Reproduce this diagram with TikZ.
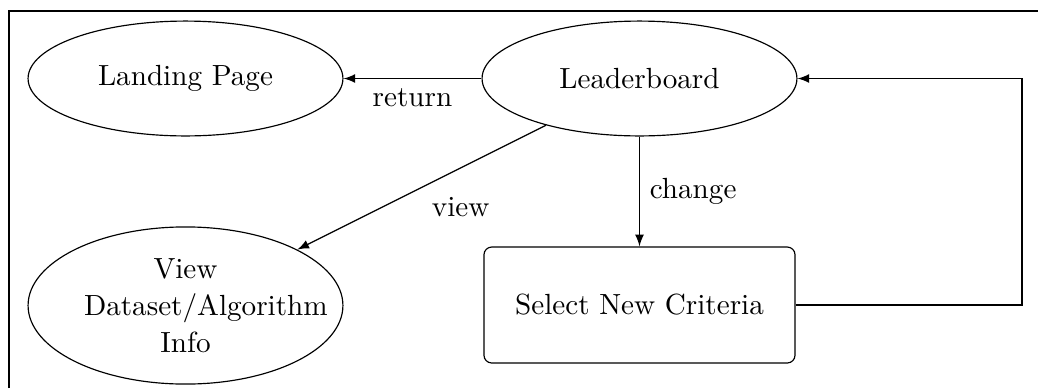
\documentclass[tikz,border=0pt]{standalone}
\usetikzlibrary{shapes.geometric,arrows}
\begin{document}
\begin{tikzpicture}[x=0.343pt,y=-0.343pt,
  state/.style={ellipse,draw,inner sep=0pt,minimum width=108pt,minimum height=39.4pt,align=center},
  tall/.style={text width=69.6pt,minimum height=53.9pt},
  taskbox/.style={rectangle,draw,rounded corners=2.7pt,minimum width=106.7pt,minimum height=39.8pt,inner sep=0pt},
  link/.style={-latex,thin}]
  \useasboundingbox (0,0) rectangle (1038,388);
  % outer frame (only top and left edges fall inside the page)
  \draw (9,388) -- (9,11) -- (1038,11);
  \node[state] (land) at (185.5,78.5) {Landing Page};
  \node[state] (lb) at (639.5,78.5) {Leaderboard};
  \node[state,tall] (view) at (185.5,305.5) {View\\[0.7pt]Dataset/Algorithm\\[0.7pt]Info};
  \node[taskbox] (crit) at (639.5,305) {Select New Criteria};
  \coordinate (loopc) at (1022,305);
  \draw[link] (lb) -- node[below] {return} (land);
  \draw[link] (lb) -- node[pos=0.5,anchor=north west] {view} (view);
  \draw[link] (lb) -- node[right] {change} (crit);
  \draw[link] (crit.east) -- (loopc) |- (lb.east);
\end{tikzpicture}
\end{document}
